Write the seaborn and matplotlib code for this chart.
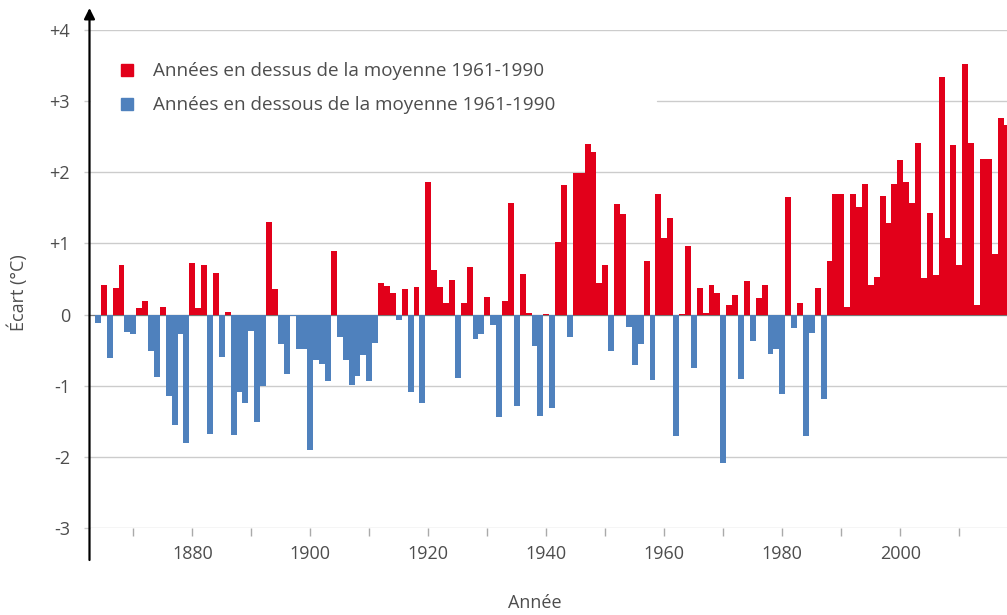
import numpy as np
import pandas as pd
import seaborn as sns
import matplotlib.pyplot as plt
from matplotlib.lines import Line2D

# spring temperature deviation vs 1961-1990
years = np.arange(1864, 2019)
anomaly = [
    -0.12, 0.42, -0.61, 0.38, 0.70, -0.24,                      # 1864-1869
    -0.27, 0.09, 0.19, -0.51, -0.88, 0.10, -1.15, -1.55, -0.27, -1.81,   # 1870s
    0.72, 0.09, 0.69, -1.68, 0.59, -0.60, 0.03, -1.69, -1.09, -1.24,     # 1880s
    -0.23, -1.51, -1.00, 1.30, 0.36, -0.42, -0.84, -0.02, -0.49, -0.49,  # 1890s
    -1.90, -0.64, -0.70, -0.94, 0.89, -0.31, -0.64, -0.99, -0.87, -0.57, # 1900s
    -0.94, -0.40, 0.45, 0.40, 0.30, -0.07, 0.36, -1.09, 0.39, -1.24,     # 1910s
    1.87, 0.62, 0.39, 0.16, 0.49, -0.89, 0.16, 0.67, -0.35, -0.28,       # 1920s
    0.24, -0.14, -1.44, 0.19, 1.57, -1.29, 0.57, 0.02, -0.44, -1.43,     # 1930s
    0.01, -1.32, 1.02, 1.82, -0.31, 1.99, 1.99, 2.40, 2.28, 0.45,        # 1940s
    0.70, -0.51, 1.56, 1.42, -0.18, -0.71, -0.41, 0.75, -0.92, 1.69,     # 1950s
    1.08, 1.36, -1.70, 0.01, 0.96, -0.75, 0.38, 0.02, 0.41, 0.31,        # 1960s
    -2.09, 0.13, 0.28, -0.91, 0.47, -0.37, 0.23, 0.41, -0.56, -0.48,     # 1970s
    -1.12, 1.65, -0.19, 0.16, -1.70, -0.26, 0.37, -1.19, 0.75, 1.70,     # 1980s
    1.70, 0.11, 1.69, 1.51, 1.84, 0.41, 0.53, 1.67, 1.29, 1.83,          # 1990s
    2.17, 1.86, 1.57, 2.41, 0.52, 1.43, 0.56, 3.34, 1.07, 2.39,          # 2000s
    0.70, 3.52, 2.41, 0.13, 2.18, 2.18, 0.85, 2.76, 2.66,                # 2010s
]

label_above = "Années en dessus de la moyenne 1961-1990"
label_below = "Années en dessous de la moyenne 1961-1990"
red = "#e2001a"
blue = "#4f81bd"

y_ticks = [-3, -2, -1, 0, 1, 2, 3, 4]
y_labels = ["-3", "-2", "-1", "0", "+1", "+2", "+3", "+4"]
x_ticks = list(range(1870, 2011, 10))
x_labels = [str(t) if t % 20 == 0 else "" for t in x_ticks]

df = pd.DataFrame({"year": years, "anomaly": anomaly})
df["sens"] = np.where(df["anomaly"] >= 0, label_above, label_below)

sns.set_theme(style="white")
plt.rcParams["font.family"] = ["Open Sans", "DejaVu Sans"]
txt = "#4d4d4d"

fig = plt.figure(figsize=(10.07, 6.15), dpi=100)
W, H = 1007, 615
ax_left, ax_top, ax_bot = 89.5, 30, 528
ax = fig.add_axes([ax_left / W, 1 - ax_bot / H, (W - ax_left) / W, (ax_bot - ax_top) / H])

# grid lines (the +3 one is hidden behind the legend on the left)
for t in y_ticks:
    if t == 0:
        ax.axhline(t, color="#777777", lw=0.9, zorder=1)
    elif t == 3:
        ax.axhline(t, xmin=(657 - ax_left) / (W - ax_left), color="#cccccc", lw=1.0, zorder=0)
    else:
        ax.axhline(t, color="#cccccc", lw=1.0, zorder=0)

sns.barplot(data=df, x="year", y="anomaly", hue="sens", native_scale=True,
            palette={label_above: red, label_below: blue}, saturation=1, width=1.0,
            dodge=False, linewidth=0, legend=False, ax=ax, zorder=2)

ax.set_xlim(1862.58, 2018.08)
ax.set_ylim(-3, 4)
for s in ax.spines.values():
    s.set_visible(False)

ax.set_yticks(y_ticks)
ax.set_yticklabels(y_labels)
ax.set_xticks(x_ticks)
ax.set_xticklabels(x_labels)
ax.tick_params(axis="y", left=True, length=4, width=1, color="#cccccc", pad=10,
               labelsize=13, labelcolor=txt)
ax.tick_params(axis="x", bottom=True, length=6, width=1, color="#aaaaaa", pad=6,
               labelsize=13, labelcolor=txt)
ax.set_xlabel("")
ax.set_ylabel("")

# vertical axis drawn as an arrow
ax.annotate("", xy=(0, 1 + 22 / 498), xytext=(0, -32 / 498), xycoords="axes fraction",
            arrowprops=dict(arrowstyle="-|>", color="black", lw=1.6, mutation_scale=16,
                            shrinkA=0, shrinkB=0),
            annotation_clip=False)

fig.text(18 / W, 1 - 293 / H, "Écart (°C)", rotation=90, ha="center", va="center",
         fontsize=13, color=txt)
fig.text(535 / W, 1 - 603 / H, "Année", ha="center", va="center", fontsize=13, color=txt)

handles = [
    Line2D([], [], marker="s", linestyle="none", markersize=8, color=red, label=label_above),
    Line2D([], [], marker="s", linestyle="none", markersize=8, color=blue, label=label_below),
]
ax.legend(handles=handles, loc="upper left", bbox_to_anchor=(0.031, 0.935), frameon=False,
          fontsize=13.6, labelcolor=txt, handlelength=1.0, handletextpad=0.85,
          labelspacing=0.85, borderpad=0, borderaxespad=0)

fig.savefig("out.png", dpi=100)
